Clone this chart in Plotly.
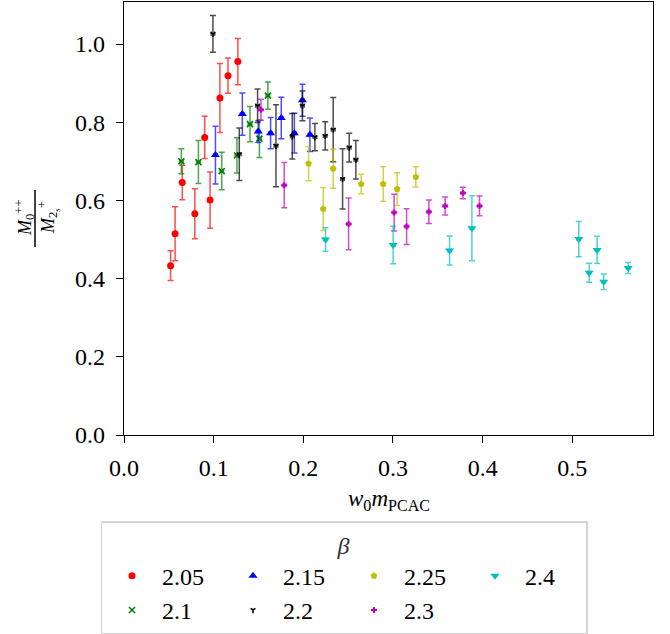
import plotly.graph_objects as go

# ---------------- data ----------------
betas = ["2.05", "2.1", "2.15", "2.2", "2.25", "2.3", "2.4"]

x_205 = [0.052, 0.057, 0.065, 0.079, 0.090, 0.096, 0.107, 0.116, 0.127]
y_205 = [0.433, 0.515, 0.646, 0.566, 0.761, 0.601, 0.862, 0.919, 0.955]
e_205 = [0.038, 0.069, 0.044, 0.064, 0.054, 0.072, 0.088, 0.045, 0.059]

x_210 = [0.064, 0.083, 0.109, 0.126, 0.1405, 0.151, 0.1605]
y_210 = [0.700, 0.698, 0.675, 0.715, 0.795, 0.758, 0.868]
e_210 = [0.032, 0.055, 0.048, 0.045, 0.045, 0.048, 0.035]

x_215 = [0.102, 0.132, 0.1497, 0.1635, 0.1754, 0.190, 0.199, 0.2074]
y_215 = [0.716, 0.821, 0.776, 0.772, 0.811, 0.772, 0.856, 0.768]
e_215 = [0.074, 0.054, 0.028, 0.040, 0.053, 0.051, 0.041, 0.043]

x_220 = [0.0992, 0.1286, 0.149, 0.1695, 0.1877, 0.199, 0.2129, 0.2244, 0.2333, 0.2438, 0.2512, 0.2586]
y_220 = [1.026, 0.718, 0.842, 0.740, 0.764, 0.842, 0.762, 0.765, 0.781, 0.655, 0.735, 0.704]
e_220 = [0.047, 0.067, 0.043, 0.105, 0.058, 0.038, 0.035, 0.036, 0.082, 0.077, 0.037, 0.049]

x_225 = [0.2059, 0.2222, 0.2333, 0.2645, 0.2891, 0.3047, 0.3255]
y_225 = [0.694, 0.578, 0.681, 0.642, 0.642, 0.629, 0.660]
e_225 = [0.044, 0.055, 0.050, 0.025, 0.044, 0.042, 0.026]

x_230 = [0.1527, 0.1787, 0.2505, 0.3013, 0.3152, 0.340, 0.3582, 0.378, 0.3965]
y_230 = [0.832, 0.639, 0.540, 0.569, 0.533, 0.571, 0.586, 0.619, 0.586]
e_230 = [0.027, 0.058, 0.066, 0.047, 0.046, 0.030, 0.023, 0.0145, 0.025]

x_240 = [0.2248, 0.3002, 0.3631, 0.388, 0.5072, 0.5188, 0.5277, 0.535, 0.5624]
y_240 = [0.500, 0.486, 0.472, 0.529, 0.501, 0.415, 0.4735, 0.392, 0.427]
e_240 = [0.030, 0.048, 0.037, 0.083, 0.045, 0.024, 0.035, 0.020, 0.014]

xerr_val = 0.002

x_ticks = [0.0, 0.1, 0.2, 0.3, 0.4, 0.5]
y_ticks = [0.0, 0.2, 0.4, 0.6, 0.8, 1.0]

# ---------------- styles ----------------
series = [
    (x_205, y_205, e_205, "rgb(255,0,0)", "rgba(255,0,0,0.7)", "circle", 7, 1),
    (x_210, y_210, e_210, "rgb(0,128,0)", "rgba(0,128,0,0.7)", "x-thin", 6, 5),
    (x_215, y_215, e_215, "rgb(0,0,255)", "rgba(0,0,255,0.7)", "triangle-up", 8, 2),
    (x_220, y_220, e_220, "rgb(0,0,0)", "rgba(0,0,0,0.7)", "y-down", 4, 6),
    (x_225, y_225, e_225, "rgb(191,191,0)", "rgba(191,191,0,0.7)", "pentagon", 7, 3),
    (x_230, y_230, e_230, "rgb(191,0,191)", "rgba(191,0,191,0.7)", "cross", 5, 7),
    (x_240, y_240, e_240, "rgb(0,191,191)", "rgba(0,191,191,0.7)", "triangle-down", 8, 4),
]

FONT = "Liberation Serif"
fig = go.Figure()
for b, (xs, ys, es, col, ecol, sym, size, rank) in zip(betas, series):
    open_sym = sym in ("x-thin", "y-down")
    fig.add_trace(go.Scatter(
        x=xs, y=ys, mode="markers", name=b, legendrank=rank,
        marker=dict(symbol=sym, size=size, color=col,
                    line=dict(width=1.6 if open_sym else 0, color=col)),
        error_y=dict(type="data", array=es, visible=True, color=ecol,
                     thickness=1.5, width=3),
        error_x=dict(type="constant", value=xerr_val, visible=True, color=ecol,
                     thickness=1.5, width=2),
    ))

L, R, T, B = 124, 17, 2, 199
W, H = 670, 634
pw = W - L - R
ph = H - T - B

def px_x(p):
    return (p - L) / pw

def px_y(p):
    return (H - B - p) / ph

axis_common = dict(showline=True, linecolor="black", linewidth=1.3, mirror=True,
                   ticks="outside", ticklen=7, tickwidth=1.3, tickcolor="black",
                   showgrid=False, zeroline=False,
                   tickfont=dict(family=FONT, size=24, color="black"))

fig.update_layout(
    width=W, height=H,
    margin=dict(l=L, r=R, t=T, b=B, autoexpand=False),
    paper_bgcolor="white", plot_bgcolor="white",
    xaxis=dict(range=[0, 0.590], tickvals=x_ticks,
               ticktext=[f"{v:.1f}" for v in x_ticks], ticklabelstandoff=4,
               **axis_common),
    yaxis=dict(range=[0, 1.1075], tickvals=y_ticks,
               ticktext=[f"{v:.1f}" for v in y_ticks], ticklabelstandoff=6,
               **axis_common),
    showlegend=True,
    legend=dict(orientation="h", x=px_x(344), y=px_y(521), xanchor="center", yanchor="top",
                bgcolor="white", bordercolor="#d4d4d4", borderwidth=1.5,
                font=dict(family=FONT, size=24, color="black"),
                title=dict(text="<i>β</i>", side="top center",
                           font=dict(family=FONT, size=24, color="#333")),
                entrywidth=56, entrywidthmode="pixels", itemwidth=50,
                traceorder="normal"),
)

# x axis title
fig.add_annotation(xref="paper", yref="paper", x=0.5, y=px_y(500),
                   xanchor="center", yanchor="middle", showarrow=False,
                   text="<i>w</i><sub>0</sub><i>m</i><sub>PCAC</sub>",
                   font=dict(family=FONT, size=23, color="black"))

# y axis title as a rotated fraction
fig.add_annotation(xref="paper", yref="paper", x=px_x(25), y=px_y(218),
                   xanchor="center", yanchor="middle", showarrow=False, textangle=-90,
                   text="<i>M</i><sub>0</sub><sup>++</sup>",
                   font=dict(family=FONT, size=18, color="black"))
fig.add_annotation(xref="paper", yref="paper", x=px_x(49), y=px_y(218),
                   xanchor="center", yanchor="middle", showarrow=False, textangle=-90,
                   text="<i>M</i><sub>2<sub>s</sub></sub><sup>+</sup>",
                   font=dict(family=FONT, size=18, color="black"))
fig.add_shape(type="line", xref="paper", yref="paper",
              x0=px_x(35), x1=px_x(35), y0=px_y(190), y1=px_y(247),
              line=dict(color="black", width=1.5))

fig.write_html("out.html", post_script="document.body.style.margin='0';",
               config={"displayModeBar": False})
